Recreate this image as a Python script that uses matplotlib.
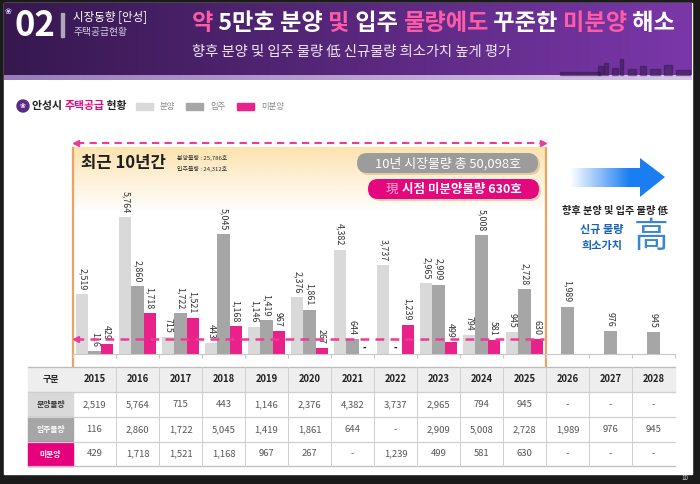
import numpy as np
import matplotlib
matplotlib.use('Agg')
import matplotlib.pyplot as plt
from matplotlib.patches import Rectangle, FancyBboxPatch, Polygon, Circle
from matplotlib.colors import to_rgb

plt.rcParams['font.family'] = ['Noto Sans CJK KR', 'DejaVu Sans']

# ---------------- data ----------------
years = ['2015', '2016', '2017', '2018', '2019', '2020', '2021',
         '2022', '2023', '2024', '2025', '2026', '2027', '2028']
supply = [2519, 5764, 715, 443, 1146, 2376, 4382, 3737, 2965, 794, 945, None, None, None]
movein = [116, 2860, 1722, 5045, 1419, 1861, 644, None, 2909, 5008, 2728, 1989, 976, 945]
unsold = [429, 1718, 1521, 1168, 967, 267, None, 1239, 499, 581, 630, None, None, None]
series_names = ['분양', '입주', '미분양']
row_labels = ['분양물량', '입주물량', '미분양']
current_unsold = 630
recent_years = 11  # 2015-2025

C_SUP = '#d9d9d9'
C_MOV = '#a6a6a6'
C_UNS = '#e8228a'
PINK = '#e4077d'

fig = plt.figure(figsize=(7, 4.84), dpi=100, facecolor='#1a1a1a')
renderer = fig.canvas.get_renderer()

bg = fig.add_axes([0, 0, 1, 1], zorder=0)
bg.set_xlim(0, 700); bg.set_ylim(484, 0); bg.axis('off')

# page
bg.add_patch(Rectangle((4, 3), 688, 471, color='white', zorder=0))

# header gradient
def hgrad(c1, c2, n=256):
    a = np.array(to_rgb(c1)); b = np.array(to_rgb(c2))
    t = np.linspace(0, 1, n)[None, :, None]
    return a * (1 - t) + b * t

bg.imshow(hgrad('#36184f', '#7a37a9'), extent=(4, 692, 75, 3), aspect='auto', zorder=1)
bg.imshow(hgrad('#9a7bbb', '#d8c6ea'), extent=(4, 692, 80, 75), aspect='auto', zorder=1)

# subtle skyline silhouette
for (xs, ws, hs) in [(560, 40, 3), (598, 5, 9), (604, 4, 12), (612, 6, 7), (620, 3, 16),
                     (628, 8, 6), (640, 6, 9), (650, 10, 6), (664, 8, 10), (676, 14, 5)]:
    bg.add_patch(Rectangle((xs, 75 - hs), ws, hs, color='#2a1640', alpha=0.45, zorder=2))

# header texts
bg.text(8, 12, '❀', color='#d9d0e3', fontsize=6, family='DejaVu Sans', ha='center', va='center')
bg.text(14, 26, '02', color='white', fontsize=25, fontweight='bold', ha='left', va='center')
bg.add_patch(Rectangle((61, 13), 2.5, 24, color='#b0a6bb', zorder=3))
bg.text(73, 18, '시장동향 [안성]', color='white', fontsize=8.3, ha='left', va='center')
bg.text(73, 32.5, '주택공급현황', color='#d9cde6', fontsize=7, ha='left', va='center')


def rich(ax, x, y, parts, ha='left', **kw):
    widths = []
    for s, c, extra in parts:
        t = ax.text(0, 0, s, **kw, **extra)
        widths.append(t.get_window_extent(renderer).width)
        t.remove()
    total = sum(widths)
    if ha == 'center':
        x -= total / 2
    elif ha == 'right':
        x -= total
    for (s, c, extra), w in zip(parts, widths):
        ax.text(x, y, s, color=c, ha='left', va='center', **kw, **extra)
        x += w


HP = '#ff5aa7'
rich(bg, 192, 24, [('약', HP, {}), (' 5만호 분양 ', 'white', {}), ('및', HP, {}),
                   (' 입주 ', 'white', {}), ('물량에도', HP, {}), (' 꾸준한 ', 'white', {}),
                   ('미분양', HP, {}), (' 해소', 'white', {})],
     fontsize=16.7, fontweight='bold')
bg.text(192, 52, '향후 분양 및 입주 물량 低 신규물량 희소가치 높게 평가', color='#efe8f5',
        fontsize=10.3, ha='left', va='center')

# legend row
bg.add_patch(Circle((23, 106), 6, color='#5b2c83', zorder=3))
bg.text(23, 106, '❀', color='white', fontsize=5, family='DejaVu Sans', ha='center', va='center', zorder=4)
rich(bg, 32, 106, [('안성시 ', '#222222', {}), ('주택공급', PINK, {}), (' 현황', '#222222', {})],
     fontsize=7.8, fontweight='bold')
for (x0, c, name) in [(136, C_SUP, series_names[0]), (186, C_MOV, series_names[1]), (237, C_UNS, series_names[2])]:
    bg.add_patch(Rectangle((x0, 102.5), 17, 7, color=c, zorder=3))
    bg.text(x0 + 24, 106, name, color='#8a8a8a', fontsize=6, ha='left', va='center')

# yellow gradient band over the recent 10 years
x_left = 73
col_w = 43
x_split = x_left + col_w * recent_years
n = 128
grad = np.zeros((n, 1, 4))
grad[..., :3] = to_rgb('#fbd27e')
grad[..., 3] = np.linspace(0.62, 0.0, n)[:, None]
bg.imshow(grad, extent=(x_left, x_split, 212, 147), aspect='auto', zorder=1)

# orange vertical separators
for xv in (x_left, x_split):
    bg.plot([xv, xv], [147, 367], color='#f1a15f', lw=1.6, zorder=2, solid_capstyle='butt')

# ---------------- bar chart ----------------
base_y = 354
top_y = 150
ax = fig.add_axes([x_left / 700, (484 - base_y) / 484, (col_w * 14) / 700, (base_y - top_y) / 484], zorder=2)
ax.patch.set_alpha(0)
ax.set_xlim(-0.5, 13.5)
ax.set_ylim(0, (base_y - top_y) / 0.0238)
for s in ('top', 'right', 'left'):
    ax.spines[s].set_visible(False)
ax.spines['bottom'].set_color('#c8c8c8')
ax.spines['bottom'].set_linewidth(0.8)
ax.set_yticks([])
ax.set_xticks(np.arange(-0.5, 14, 1))
ax.set_xticklabels([])
ax.tick_params(axis='x', length=3, color='#c8c8c8', width=0.8)

w = 0.28
x = np.arange(len(years))
pad = 170
for off, vals, col in [(-w, supply, C_SUP), (0, movein, C_MOV), (w, unsold, C_UNS)]:
    for i, v in enumerate(vals):
        xi = x[i] + off
        if v is None:
            if i < recent_years:
                ax.text(xi, 250, '-', ha='center', va='center', fontsize=7, fontweight='bold', color='#111')
            continue
        ax.bar(xi, v, w, color=col, zorder=2)
        ax.text(xi, v + pad, f'{v:,}', rotation=270, ha='center', va='bottom',
                fontsize=6.4, color='#333333', zorder=3)

# current unsold dashed line
ax.plot([-0.45, recent_years - 0.55], [current_unsold, current_unsold], color='#ec3b98',
        lw=1.8, ls=(0, (3.5, 2.5)), zorder=4)
ax.plot([-0.42], [current_unsold], marker='<', color='#ec3b98', markersize=4.5, zorder=4)

# ---------------- foreground annotations ----------------
fg = fig.add_axes([0, 0, 1, 1], zorder=5)
fg.set_xlim(0, 700); fg.set_ylim(484, 0); fg.axis('off'); fg.patch.set_alpha(0)

# top dashed double arrow
fg.plot([77, 541], [143, 143], color='#ec3b98', lw=1.5, ls=(0, (3.5, 2.5)))
fg.plot([76], [143], marker='<', color='#ec3b98', markersize=4)
fg.plot([543], [143], marker='>', color='#ec3b98', markersize=4)

fg.text(81, 163, '최근 10년간', fontsize=12, fontweight='bold', color='#1e1e1e', ha='left', va='center')
fg.text(177, 158, '분양물량 : 25,786호', fontsize=4.3, color='#333', ha='left', va='center')
fg.text(177, 169, '입주물량 : 24,312호', fontsize=4.3, color='#333', ha='left', va='center')

# gray rounded box
fg.add_patch(FancyBboxPatch((359, 155), 181, 20, boxstyle='round,pad=0,rounding_size=10',
                            color='#c9b07a', alpha=0.5, lw=0))
fg.add_patch(FancyBboxPatch((357, 153), 181, 20, boxstyle='round,pad=0,rounding_size=10',
                            color='#9c9c9c', lw=0))
fg.text(448, 163.5, '10년 시장물량 총 50,098호', fontsize=9.3, color='white', ha='center', va='center')

# pink rounded box
fg.add_patch(FancyBboxPatch((370, 181), 171, 20, boxstyle='round,pad=0,rounding_size=10',
                            color='#c9a070', alpha=0.45, lw=0))
fg.add_patch(FancyBboxPatch((368, 179), 171, 20, boxstyle='round,pad=0,rounding_size=10',
                            color=PINK, lw=0))
rich(fg, 454, 189.5, [('現 ', '#f9b3d6', {}), ('시점 미분양물량 630호', 'white', {'fontweight': 'bold'})],
     ha='center', fontsize=9)

# blue gradient arrow
arrow_pts = [(570, 168), (640, 168), (640, 158), (665, 177), (640, 197), (640, 187), (570, 187)]
poly = Polygon(arrow_pts, closed=True, facecolor='none', edgecolor='none')
fg.add_patch(poly)
ag = np.zeros((1, 256, 4))
ag[..., :3] = to_rgb('#1a7ef2')
ag[..., 3] = np.clip(np.linspace(0.0, 1.6, 256), 0, 1)[None, :]
im = fg.imshow(ag, extent=(570, 665, 197, 158), aspect='auto')
im.set_clip_path(poly)

fg.text(615, 211, '향후 분양 및 입주 물량 低', fontsize=7.3, fontweight='bold', color='#222',
        ha='center', va='center')
fg.text(602, 230, '신규 물량', fontsize=8, fontweight='bold', color='#1763b5', ha='center', va='center')
fg.text(602, 245, '희소가치', fontsize=8, fontweight='bold', color='#1763b5', ha='center', va='center')
fg.text(651, 238, '高', fontsize=25, fontweight='light', color='#3a86d2', ha='center', va='center')

# ---------------- table ----------------
ty = [367, 392, 417, 442, 466]
tx0 = 28
first_w = x_left - tx0
x_end = x_left + col_w * 14
bg.add_patch(Rectangle((tx0, ty[0]), x_end - tx0, ty[1] - ty[0], color='#eeeeee', zorder=1))
first_col_colors = [C_SUP, C_MOV, '#e6007e']
first_col_text = ['#333333', 'white', 'white']
for r in range(3):
    bg.add_patch(Rectangle((tx0, ty[r + 1]), first_w, ty[r + 2] - ty[r + 1],
                           color=first_col_colors[r], zorder=1))
for j, yy in enumerate(ty):
    bg.plot([tx0, x_end], [yy, yy], color='#bdbdbd' if j in (0, 4) else '#d0d0d0', lw=0.9, zorder=2)
for k in range(1, 14):
    xx = x_left + col_w * k
    bg.plot([xx, xx], [ty[0], ty[4]], color='#d0d0d0', lw=0.7, zorder=2)

bg.text(tx0 + first_w / 2, (ty[0] + ty[1]) / 2, '구분', fontsize=6.5, fontweight='bold',
        color='#222', ha='center', va='center', zorder=3)
for k, yr in enumerate(years):
    cx = x_left + col_w * (k + 0.5)
    bg.text(cx, (ty[0] + ty[1]) / 2, yr, fontsize=6.8, fontweight='bold', color='#222',
            ha='center', va='center', zorder=3)
for r, (lab, vals) in enumerate(zip(row_labels, [supply, movein, unsold])):
    cy = (ty[r + 1] + ty[r + 2]) / 2
    bg.text(tx0 + first_w / 2, cy, lab, fontsize=5.6, fontweight='bold', color=first_col_text[r],
            ha='center', va='center', zorder=3)
    for k, v in enumerate(vals):
        cx = x_left + col_w * (k + 0.5)
        bg.text(cx, cy, '-' if v is None else f'{v:,}', fontsize=6.8, color='#555555',
                ha='center', va='center', zorder=3)

bg.text(688, 478, '10', fontsize=4.5, color='#dddddd', ha='right', va='center')

fig.savefig('out.png', dpi=100, facecolor=fig.get_facecolor())
